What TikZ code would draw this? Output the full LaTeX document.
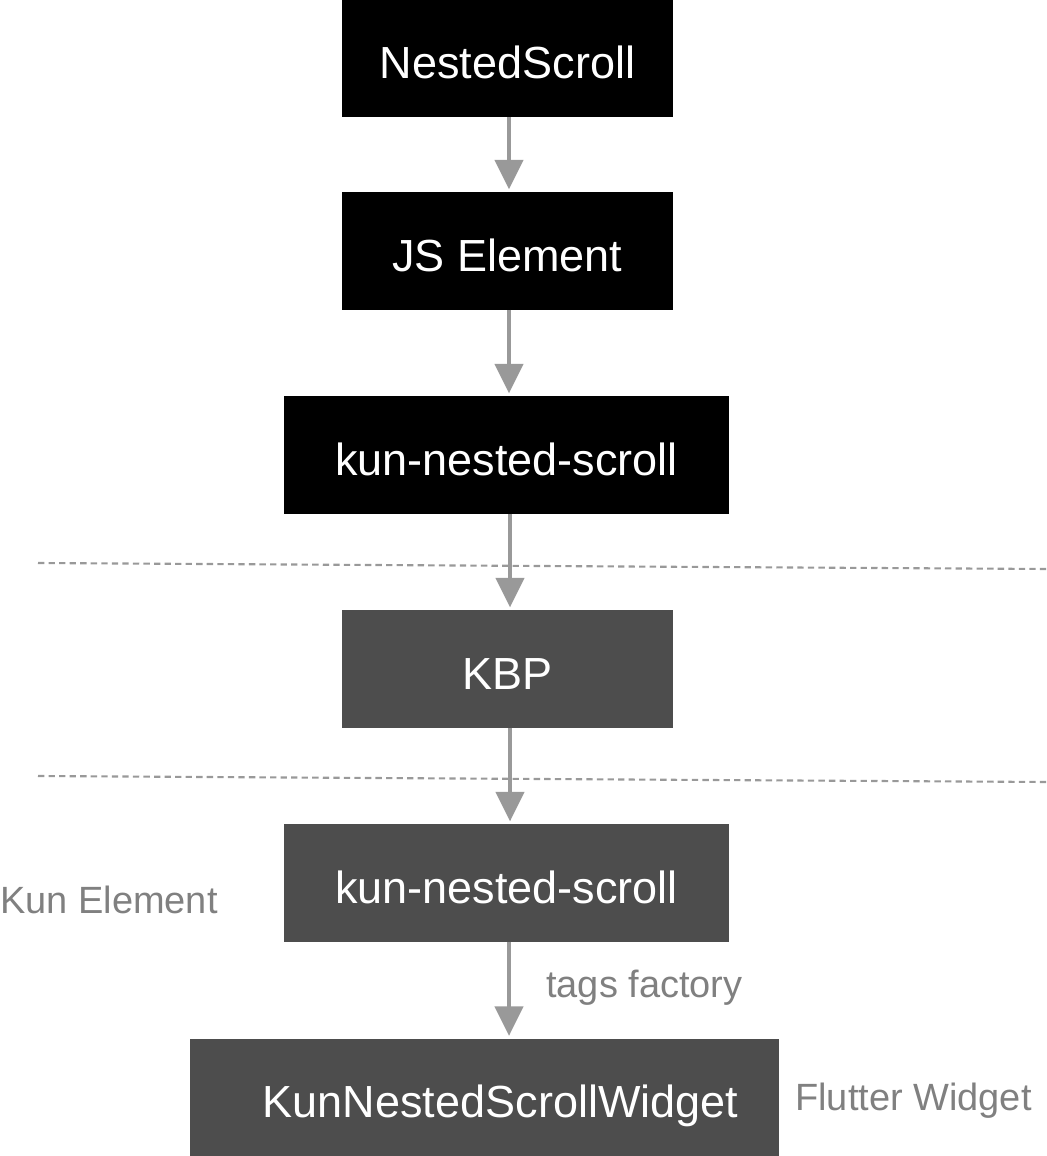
\documentclass[tikz,border=0pt]{standalone}
\usepackage{fontspec}
\setmainfont{Liberation Sans}
\usepackage{tikz}
\usetikzlibrary{arrows.meta}
\definecolor{boxgray}{HTML}{4D4D4D}
\definecolor{arrowgray}{HTML}{999999}
\definecolor{labelgray}{HTML}{808080}

\begin{document}
\begin{tikzpicture}[x=0.025cm,y=-0.025cm,
		blackbox/.style={fill=black,text=white,minimum height=2.925cm,inner sep=0pt,text height=30pt,text depth=1.5pt,font=\fontsize{32}{36}\selectfont},
		graybox/.style={blackbox,fill=boxgray},
		flow/.style={draw=arrowgray,line width=2.8pt,-{Triangle[length=21pt,width=20pt]},shorten >=2pt},
		layer/.style={draw=arrowgray,line width=1.5pt,dash pattern=on 4.5pt off 3pt},
		side/.style={text=labelgray,font=\fontsize{27}{31}\selectfont,inner sep=0pt}]
			% page frame
			\useasboundingbox (0,0) rectangle (1046,1156);
			% boxes
			\node[blackbox,minimum width=8.275cm] (nested) at (507.5,58.5) {NestedScroll};
			\node[blackbox,minimum width=8.275cm] (jselem) at (507.5,251) {JS Element};
			\node[blackbox,minimum width=11.125cm] (kunjs) at (506.5,455) {kun-nested-scroll};
			\node[graybox,minimum width=8.275cm] (kbp) at (507.5,669) {KBP};
			\node[graybox,minimum width=11.125cm] (kunel) at (506.5,883) {kun-nested-scroll};
			\node[graybox,minimum width=14.725cm] (widget) at (484.5,1097.5) {\hspace{0.8cm}KunNestedScrollWidget};
			% layer borders
			\draw[layer] (38,563) -- (1046,569);
			\draw[layer] (38,776) -- (1046,782);
			% connectors
			\draw[flow] (nested.south -| 509,0) -- (jselem.north -| 509,0);
			\draw[flow] (jselem.south -| 509,0) -- (kunjs.north -| 509,0);
			\draw[flow] (kunjs.south -| 510,0) -- (kbp.north -| 510,0);
			\draw[flow] (kbp.south -| 510,0) -- (kunel.north -| 510,0);
			\draw[flow] (kunel.south -| 509,0) -- (widget.north -| 509,0);
			% labels
			\node[side,anchor=west] (kunlabel) at (0,900) {Kun Element};
			\node[side,anchor=west] (tagslabel) at (546,988) {tags factory};
			\node[side,anchor=west] (flutterlabel) at (795,1101) {Flutter Widget};
		\end{tikzpicture}
\end{document}
